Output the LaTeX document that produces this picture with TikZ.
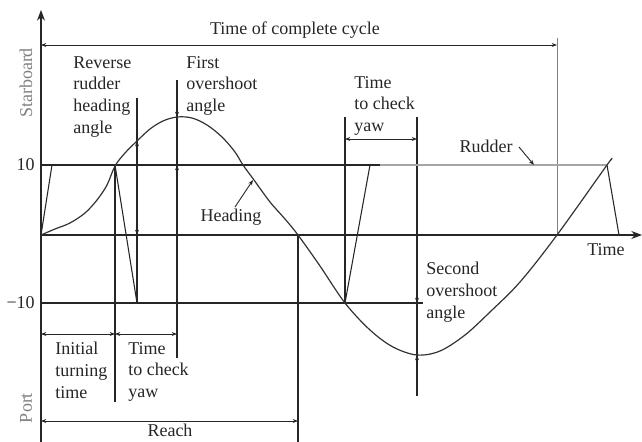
\documentclass[tikz,border=0pt]{standalone}
\usepackage{fontspec}
\setmainfont{Liberation Serif}
\usetikzlibrary{arrows.meta}
\begin{document}
\begin{tikzpicture}[x=0.75pt,y=-0.75pt,
  lbl/.style={font=\fontsize{13.5}{16.3}\selectfont, inner sep=0pt, text=black!85},
  ml/.style={lbl, align=left, anchor=north west},
  side/.style={font=\fontsize{13.5}{16.3}\selectfont, inner sep=0pt, text=black!50, rotate=90},
  axisline/.style={line width=1pt, draw=black!85},
  thinline/.style={line width=0.8pt, draw=black!85},
  dimline/.style={line width=0.7pt, draw=black!85, {Stealth[length=4pt,width=3pt]}-{Stealth[length=4pt,width=3pt]}},
  tipline/.style={line width=0.7pt, draw=black!85, -{Stealth[length=4pt,width=3pt]}},
  curve/.style={line width=0.9pt, draw=black!80},
  grayline/.style={line width=1.6pt, draw=black!35},
  grayvert/.style={line width=0.7pt, draw=black!50}
]
\useasboundingbox (0,0) rectangle (642,442);

% axes
\coordinate (yb) at (41,442);
\coordinate (yt) at (41,10);
\coordinate (o) at (41,235);
\coordinate (xe) at (642,235);
\draw[axisline, -{Stealth[length=8pt,width=6pt]}] (yb) -- (yt);
\draw[axisline, -{Stealth[length=8pt,width=6pt]}] (o) -- (xe);

% horizontal reference lines
\coordinate (p10a) at (41,165);
\coordinate (p10b) at (380,165);
\coordinate (m10a) at (41,303);
\coordinate (m10b) at (423,303);
\draw[axisline] (p10a) -- (p10b);
\draw[axisline] (m10a) -- (m10b);

% vertical lines
\coordinate (v1a) at (115,165); \coordinate (v1b) at (115,402);
\coordinate (v2a) at (137,98);  \coordinate (v2b) at (137,303);
\coordinate (v3a) at (177,80);  \coordinate (v3b) at (177,358);
\coordinate (v4a) at (298,235); \coordinate (v4b) at (298,442);
\coordinate (v5a) at (345,117); \coordinate (v5b) at (345,303);
\coordinate (v6a) at (417,117); \coordinate (v6b) at (417,396);
\coordinate (v7a) at (557,38);  \coordinate (v7b) at (557,235);
\draw[axisline] (v1a) -- (v1b);
\draw[axisline] (v2a) -- (v2b);
\draw[axisline] (v3a) -- (v3b);
\draw[axisline] (v4a) -- (v4b);
\draw[axisline] (v5a) -- (v5b);
\draw[axisline] (v6a) -- (v6b);
\draw[grayvert] (v7a) -- (v7b);

% rudder
\coordinate (r0) at (41,235);
\coordinate (r1) at (52,165);
\coordinate (r2) at (115,165);
\coordinate (r3) at (137,303);
\coordinate (r4) at (345,303);
\coordinate (r5) at (370,165);
\coordinate (r6) at (380,165);
\coordinate (r7) at (607,165);
\coordinate (r8) at (619,235);
\draw[thinline] (r0) -- (r1) -- (r2) -- (r3);
\draw[thinline] (r4) -- (r5) -- (r6);
\draw[grayline] (r6) -- (r7);
\draw[thinline] (r7) -- (r8);

% heading curve
\draw[curve] plot[smooth, tension=0.55] coordinates {
 (41,235) (55,229) (70,223) (85,213) (97,200) (107,185) (115,166)
 (125,153) (137,141) (150,129) (163,121) (177,117) (192,118) (207,125)
 (222,137) (235,152) (243,165) (254,180) (270,202) (285,219) (298,235)
 (320,266) (345,303) (370,330) (393,347) (417,355) (440,351) (465,335)
 (490,312) (520,282) (557,235) (607,165) (611,160)};

% dimension arrows
\coordinate (c1) at (41,45);   \coordinate (c2) at (557,45);
\coordinate (t1) at (345,139); \coordinate (t2) at (417,139);
\coordinate (i1) at (41,334);  \coordinate (i2) at (115,334);
\coordinate (k1) at (115,334); \coordinate (k2) at (177,334);
\coordinate (re1) at (41,421); \coordinate (re2) at (298,421);
\draw[dimline] (c1) -- (c2);
\draw[dimline] (t1) -- (t2);
\draw[dimline] (i1) -- (i2);
\draw[dimline] (k1) -- (k2);
\draw[dimline] (re1) -- (re2);

% angle measure tips
\coordinate (a1) at (137,141); \coordinate (a2) at (137,235);
\draw[dimline] (a1) -- (a2);
\coordinate (f0) at (177,105); \coordinate (f1) at (177,117);
\coordinate (f2) at (177,177); \coordinate (f3) at (177,165);
\draw[tipline] (f0) -- (f1);
\draw[tipline] (f2) -- (f3);
\coordinate (s0) at (417,291); \coordinate (s1) at (417,303);
\coordinate (s2) at (417,367); \coordinate (s3) at (417,355);
\draw[tipline] (s0) -- (s1);
\draw[tipline] (s2) -- (s3);

% labels
\node[lbl] (cycle) at (295,30) {Time of complete cycle};
\node[side] (starboard) at (26,83) {Starboard};
\node[side] (port) at (26,408) {Port};
\node[lbl, anchor=east] (ten) at (35,165) {10};
\node[lbl, anchor=east] (mten) at (35,303) {−10};
\node[ml] (rev) at (73,56) {Reverse\\rudder\\heading\\angle};
\node[ml] (first) at (186,56) {First\\overshoot\\angle};
\node[ml] (ttc1) at (354,76) {Time\\to check\\yaw};
\node[ml] (init) at (55,342) {Initial\\turning\\time};
\node[ml] (ttc2) at (128,342) {Time\\to check\\yaw};
\node[ml] (second) at (426,262) {Second\\overshoot\\angle};
\node[lbl, anchor=south] (reach) at (170,437) {Reach};
\node[lbl] (time) at (606,250) {Time};
\node[lbl] (heading) at (231,217) {Heading};
\node[lbl] (rudder) at (486,146) {Rudder};

% label pointers
\coordinate (hp) at (253,180);
\coordinate (hs) at (235,207);
\draw[tipline] (hs) -- (hp);
\coordinate (rp) at (534,165);
\coordinate (rs) at (519,147);
\draw[tipline] (rs) -- (rp);
\end{tikzpicture}
\end{document}
